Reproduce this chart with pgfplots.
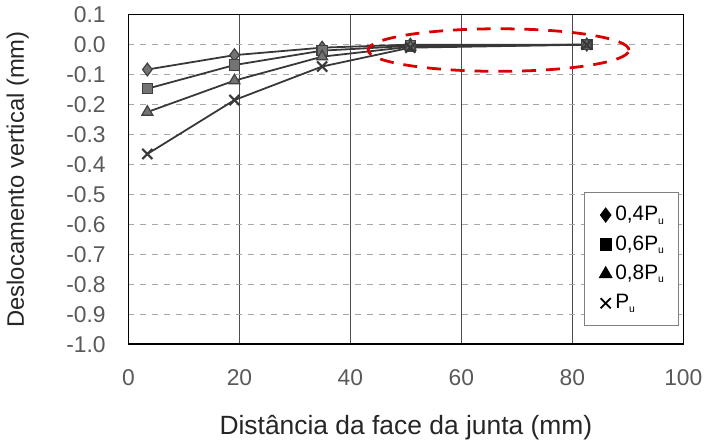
\documentclass[border=0pt]{standalone}
\usepackage{pgfplots}
\pgfplotsset{compat=1.18}
\usepackage{fontspec}
\setmainfont{Liberation Sans}

\pgfplotstableread{
x     a      b      c      d
3.4  -0.083 -0.147 -0.225 -0.365
19.1 -0.035 -0.068 -0.120 -0.185
34.9 -0.010 -0.020 -0.040 -0.073
50.8  0.000 -0.004 -0.007 -0.010
82.6  0.000  0.000  0.000  0.000
}\deflexao

\begin{document}
\begin{tikzpicture}
\begin{axis}[
  scale only axis,
  width=279.5pt, height=166pt,
  xmin=0, xmax=100, ymin=-1.0, ymax=0.1,
  xtick={0,20,...,100},
  ytick={-1.0,-0.9,...,0.1},
  yticklabel style={/pgf/number format/.cd, fixed, fixed zerofill, precision=1, /tikz/.cd, xshift=-8pt},
  /pgf/number format/assume math mode=true,
  tick label style={font=\fontsize{11.5}{13}\selectfont, text=black!65},
  xticklabel style={yshift=-9pt},
  major tick length=0pt,
  xmajorgrids=true,
  ymajorgrids=true,
  x grid style={black!70, line width=0.5pt},
  y grid style={black!35, dashed, line width=0.4pt},
  axis line style={black, line width=0.8pt},
  xlabel={Distância da face da junta (mm)},
  ylabel={Deslocamento vertical (mm)},
  xlabel style={font=\fontsize{13.3}{15}\selectfont, text=black!85, yshift=-8pt},
  ylabel style={font=\fontsize{12}{14}\selectfont, text=black!85, yshift=12pt},
  legend style={at={(rel axis cs:0.993,0.054)}, anchor=south east,
    draw=black!50, font=\fontsize{10.5}{12}\selectfont, row sep=2pt,
    inner xsep=5pt, inner ysep=5pt, line width=0.6pt},
  legend cell align=left,
  legend image code/.code={%
    \path[draw=none] (0cm,0cm) -- (0.3cm,0cm);
    \draw[#1, mark options={fill=black, draw=black}] plot[only marks] coordinates {(0.2cm,0cm)};},
  mystyle/.style={black!78, line width=0.9pt,
    mark options={solid, fill=black!55, draw=black!75, line width=0.6pt}},
]
\addplot[mystyle, mark=diamond*, mark size=3.2pt] table[x=x, y=a] {\deflexao};
\addlegendentry{0,4P$_{\scriptscriptstyle\mathrm{u}}$}
\addplot[mystyle, mark=square*, mark size=2.6pt] table[x=x, y=b] {\deflexao};
\addlegendentry{0,6P$_{\scriptscriptstyle\mathrm{u}}$}
\addplot[mystyle, mark=triangle*, mark size=3.2pt] table[x=x, y=c] {\deflexao};
\addlegendentry{0,8P$_{\scriptscriptstyle\mathrm{u}}$}
\addplot[mystyle, mark=x, mark size=3.6pt, mark options={line width=1.1pt}] table[x=x, y=d] {\deflexao};
\addlegendentry{P$_{\scriptscriptstyle\mathrm{u}}$}
\draw[red!85!black, line width=1.4pt, dash pattern=on 7pt off 5pt]
  (axis cs:66.7,-0.018) ellipse [x radius=23.5, y radius=0.071];
\end{axis}
\end{tikzpicture}
\end{document}
